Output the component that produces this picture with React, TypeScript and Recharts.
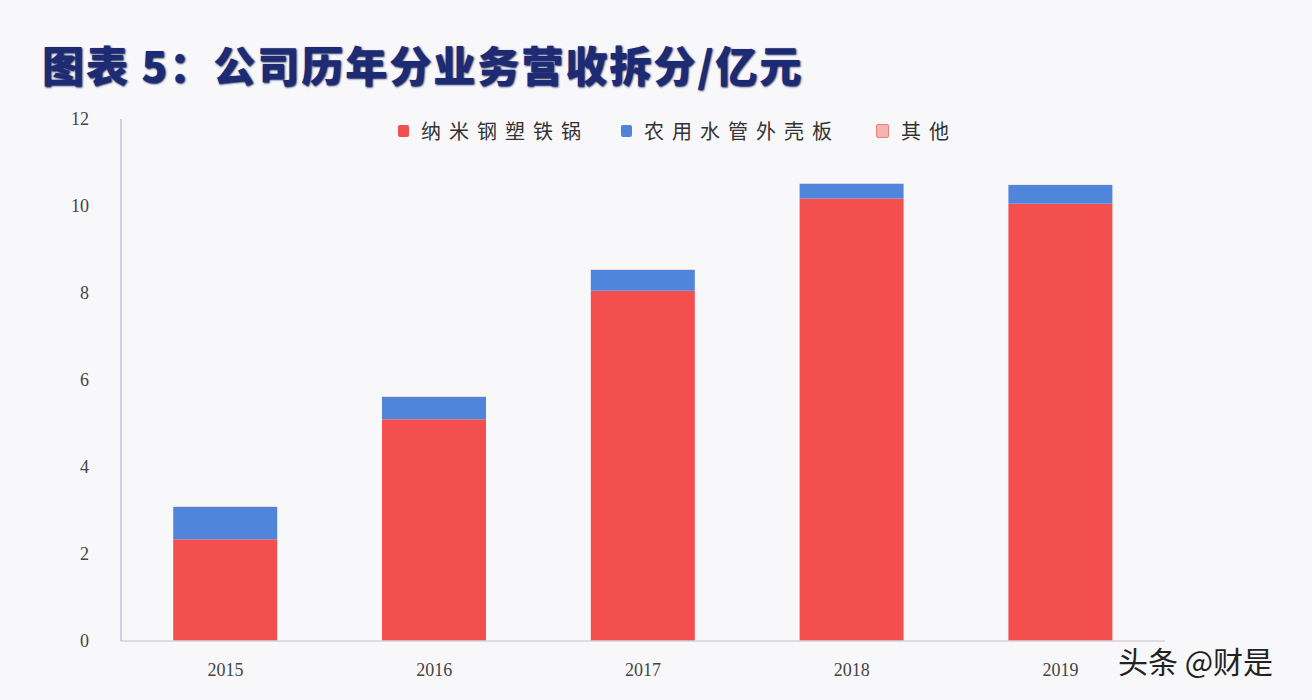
import { BarChart, Bar, XAxis, YAxis } from 'recharts';

// 公司历年分业务营收（亿元）
const years = ['2015', '2016', '2017', '2018', '2019'];
const seriesNames = ['纳米钢塑铁锅', '农用水管外壳板', '其他'];
const mainBiz = [2.34, 5.1, 8.05, 10.17, 10.05];
const pipeBiz = [0.74, 0.51, 0.48, 0.34, 0.43];
const otherBiz = [0.01, 0.01, 0.01, 0.01, 0.01];
const yTicks = [0, 2, 4, 6, 8, 10, 12];

const colors = ['#f44f4f', '#4f86db', '#f6b3b3'];

const chartData = years.map((year, i) => ({
  year,
  main: mainBiz[i],
  pipe: pipeBiz[i],
  other: otherBiz[i],
}));

function ChartLegend() {
  return (
    <div
      style={{
        position: 'absolute',
        left: 398,
        top: 116,
        display: 'flex',
        alignItems: 'center',
        fontFamily: '"Noto Sans CJK SC", sans-serif',
        fontSize: 20,
        color: '#333',
        letterSpacing: 8,
        whiteSpace: 'nowrap',
      }}
    >
      {seriesNames.map((name, i) => (
        <div key={name} style={{ display: 'flex', alignItems: 'center', marginRight: i === 1 ? 36 : 32 }}>
          <span
            style={{
              display: 'inline-block',
              width: 11,
              height: 12,
              borderRadius: 2,
              background: colors[i],
              border: i === 2 ? '1px solid #f08080' : 'none',
              marginRight: 12,
            }}
          />
          <span>{name}</span>
        </div>
      ))}
    </div>
  );
}

export default function App() {
  return (
    <div style={{ position: 'absolute', left: 0, top: 0, width: 1312, height: 700, background: '#f8f8fa', overflow: 'hidden' }}>
      <div
        style={{
          position: 'absolute',
          left: 42,
          top: 33,
          fontFamily: '"Noto Sans CJK SC", sans-serif',
          fontWeight: 900,
          fontSize: 42,
          color: '#1c2b74',
          letterSpacing: 2,
          textShadow: '1px 1px 2px #0d1850',
          whiteSpace: 'nowrap',
        }}
      >
        图表 5：公司历年分业务营收拆分/亿元
      </div>
      <BarChart
        width={1312}
        height={700}
        data={chartData}
        margin={{ top: 119, right: 147, bottom: 19, left: 61 }}
        barCategoryGap="25%"
        style={{ position: 'absolute', left: 0, top: 0 }}
      >
        <XAxis
          dataKey="year"
          height={40}
          tickLine={false}
          axisLine={{ stroke: '#d4d4d8', strokeWidth: 1.5 }}
          tick={{ fill: '#444', fontSize: 18, fontFamily: '"Liberation Serif", serif' }}
          tickMargin={16}
        />
        <YAxis
          width={60}
          domain={[0, 12]}
          ticks={yTicks}
          tickLine={false}
          tickSize={0}
          tickMargin={32}
          axisLine={{ stroke: '#a3adbd', strokeWidth: 1 }}
          tick={{ fill: '#444', fontSize: 18, fontFamily: '"Liberation Serif", serif' }}
        />
        <Bar dataKey="main" stackId="a" name={seriesNames[0]} fill={colors[0]} isAnimationActive={false} />
        <Bar dataKey="pipe" stackId="a" name={seriesNames[1]} fill={colors[1]} isAnimationActive={false} />
        <Bar dataKey="other" stackId="a" name={seriesNames[2]} fill={colors[2]} isAnimationActive={false} />
      </BarChart>
      <ChartLegend />
      <div
        style={{
          position: 'absolute',
          left: 1118,
          top: 638,
          fontFamily: '"Noto Sans CJK SC", sans-serif',
          fontSize: 30,
          color: '#222',
          whiteSpace: 'nowrap',
        }}
      >
        头条 @财是
      </div>
    </div>
  );
}
